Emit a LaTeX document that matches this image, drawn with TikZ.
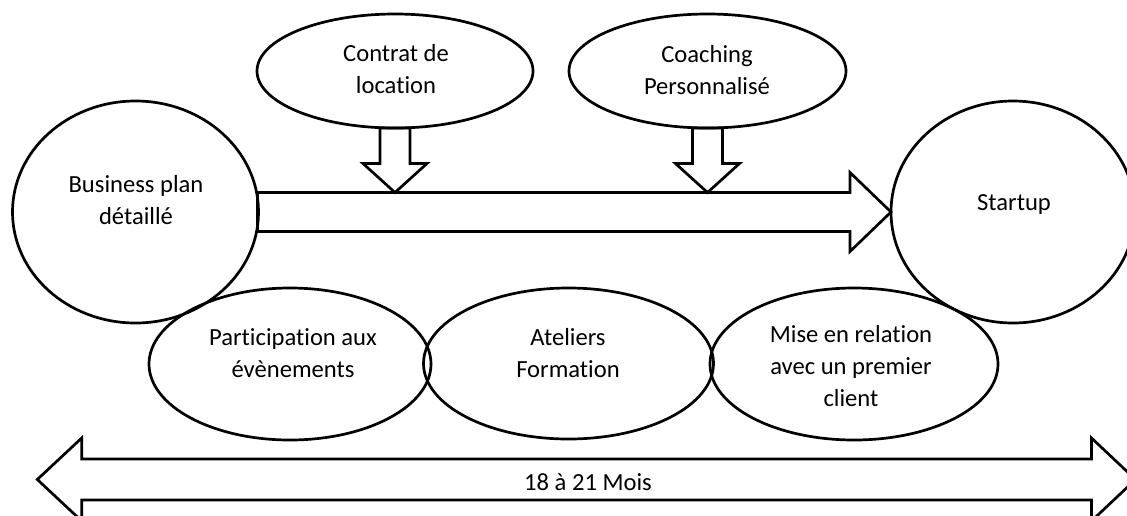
\documentclass[tikz,border=0pt]{standalone}
\usepackage{fontspec}
\setmainfont{Carlito}[RawFeature={-liga}]
\usetikzlibrary{shapes.geometric,calc}
\begin{document}
\begin{tikzpicture}[x=1pt,y=-1pt,
  oval/.style={draw=black,line width=2.7pt,ellipse,inner sep=0pt,outer sep=0pt},
  blockarrow/.style={draw=black,line width=2.7pt,line join=miter},
  txt/.style={font=\fontsize{24.6}{32}\selectfont,align=center,inner sep=0pt}]
\useasboundingbox (0,0) rectangle (1127,515);
\clip (0,0) rectangle (1127,515);

% start and end of the path
\node[oval,minimum width=246pt,minimum height=222pt] (bp) at (135.5,212) {};
\node[oval,minimum width=244pt,minimum height=222pt] (su) at (1013,212) {};
\node[txt] (bpt) at (136,200) {Business plan\\détaillé};
\node[txt] (sut) at (1014,204) {Startup};

% inputs from above
\node[oval,minimum width=276pt,minimum height=114pt] (ct) at (395,71) {};
\node[oval,minimum width=277pt,minimum height=114pt] (co) at (707.5,71) {};
\node[txt] (ctt) at (396,69) {Contrat de\\location};
\node[txt] (cot) at (707,70) {Coaching\\Personnalisé};

% support actions below
\node[oval,minimum width=282pt,minimum height=152pt] (pa) at (290,364) {};
\node[oval,minimum width=290pt,minimum height=151pt] (at) at (568.5,363.5) {};
\node[oval,minimum width=288pt,minimum height=152pt] (mi) at (854,364) {};
\node[txt] (pat) at (293,353) {Participation aux\\évènements};
\node[txt] (att) at (568,353) {Ateliers\\Formation};
\node[txt] (mit) at (851,366) {Mise en relation\\avec un premier\\client};

% main block arrow
\coordinate (mtop) at ($(bp.east)+(0,-19.5)$);
\draw[blockarrow] ($(bp.east)+(-1,-19.5)$) -- ($(su.west)+(-41,-19.5)$)
  -- ($(su.west)+(-41,-39.5)$) -- (su.west) -- ($(su.west)+(-41,39.5)$)
  -- ($(su.west)+(-41,19.5)$) -- ($(bp.east)+(-1,19.5)$) -- cycle;

% downward block arrows
\foreach \src in {ct,co}{
  \draw[blockarrow] ($(\src.south)+(-15,0)$) -- ($(\src.south|-mtop)+(-15,-29)$)
    -- ($(\src.south|-mtop)+(-32,-29)$) -- (\src.south|-mtop)
    -- ($(\src.south|-mtop)+(32,-29)$) -- ($(\src.south|-mtop)+(15,-29)$)
    -- ($(\src.south)+(15,0)$) -- cycle;
}

% duration double arrow
\coordinate (dl) at (37.3,479.5);
\coordinate (dr) at (1135.5,479.5);
\draw[blockarrow] (dl) -- ($(dl)+(44.4,-41.5)$) -- ($(dl)+(44.4,-20.5)$)
  -- ($(dr)+(-44,-20.5)$) -- ($(dr)+(-44,-41.5)$) -- (dr)
  -- ($(dr)+(-44,41.5)$) -- ($(dr)+(-44,20.5)$) -- ($(dl)+(44.4,20.5)$)
  -- ($(dl)+(44.4,41.5)$) -- cycle;
\node[txt] (dur) at (588,482) {18 à 21 Mois};
\end{tikzpicture}
\end{document}
